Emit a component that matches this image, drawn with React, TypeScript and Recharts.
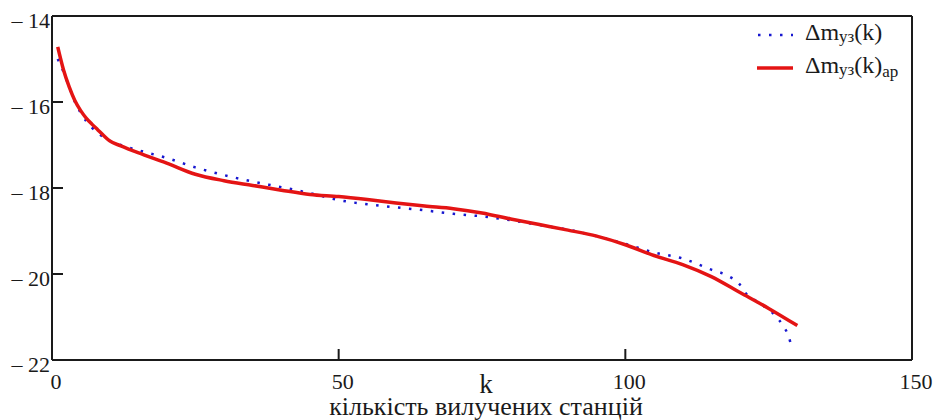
import React from 'react';
import { LineChart, Line, XAxis, YAxis, Legend } from 'recharts';

// approximated curve: k -> value
const kRed = [1, 2, 3, 4, 5, 6, 7, 8, 9, 10, 12, 15, 20, 25, 30, 35, 40, 45, 50, 55, 60, 65, 70, 75, 80, 85, 90, 95, 100, 105, 110, 115, 120, 125, 130];
const valRed = [-14.72, -15.25, -15.65, -15.97, -16.2, -16.38, -16.52, -16.65, -16.78, -16.9, -17.02, -17.18, -17.42, -17.68, -17.83, -17.94, -18.05, -18.15, -18.2, -18.27, -18.35, -18.42, -18.48, -18.58, -18.72, -18.85, -18.98, -19.12, -19.32, -19.57, -19.78, -20.06, -20.43, -20.8, -21.2];

// computed curve
const kBlue = [1, 2, 3, 4, 5, 6, 7, 8, 9, 10, 12, 15, 20, 25, 30, 35, 40, 45, 50, 55, 60, 65, 70, 75, 80, 85, 90, 95, 100, 105, 110, 115, 118, 120, 121, 122.5, 126, 127.5, 128.5, 129];
const valBlue = [-15.0, -15.3, -15.65, -16.0, -16.25, -16.45, -16.6, -16.72, -16.82, -16.9, -17.0, -17.12, -17.3, -17.52, -17.7, -17.85, -17.98, -18.12, -18.28, -18.38, -18.45, -18.52, -18.6, -18.66, -18.75, -18.86, -18.97, -19.12, -19.3, -19.5, -19.64, -19.9, -20.05, -20.25, -20.45, -20.6, -20.95, -21.2, -21.46, -21.7];

const xTicks = [0, 50, 100, 150];
const yTicks = [-22, -20, -18, -16, -14];

const redData = kRed.map((k, i) => ({ k, v: valRed[i] }));
const blueData = kBlue.map((k, i) => ({ k, v: valBlue[i] }));

const FONT = 'Liberation Serif, Tinos, Times New Roman, DejaVu Serif, serif';
const INK = '#1a1a1a';
const RED = '#e41414';
const BLUE = '#1717d0';

const BottomTick = (props: any) => {
  const { x, y, payload } = props;
  const v = payload.value;
  const inner = v !== xTicks[0] && v !== xTicks[xTicks.length - 1];
  return (
    <g>
      {inner && <line x1={x} y1={y} x2={x} y2={y - 11} stroke={INK} strokeWidth={2} />}
      <text x={x + 4} y={y + 29} textAnchor="middle" fontFamily={FONT} fontSize={22} fill={INK}>{v}</text>
    </g>
  );
};

const TopTick = (props: any) => {
  const { x, y, payload } = props;
  const v = payload.value;
  if (v === xTicks[0] || v === xTicks[xTicks.length - 1]) return <g />;
  return <line x1={x} y1={y} x2={x} y2={y + 11} stroke={INK} strokeWidth={2} />;
};

const LeftTick = (props: any) => {
  const { x, y, payload } = props;
  const v = payload.value;
  const inner = v !== yTicks[0] && v !== yTicks[yTicks.length - 1];
  return (
    <g>
      {inner && <line x1={x} y1={y} x2={x + 11} y2={y} stroke={INK} strokeWidth={2} />}
      <text x={x - 2} y={y + 12} textAnchor="end" fontFamily={FONT} fontSize={22} fill={INK}>
        {'\u2013 ' + Math.abs(v)}
      </text>
    </g>
  );
};

const RightTick = (props: any) => {
  const { x, y, payload } = props;
  const v = payload.value;
  if (v === yTicks[0] || v === yTicks[yTicks.length - 1]) return <g />;
  return <line x1={x} y1={y} x2={x - 11} y2={y} stroke={INK} strokeWidth={2} />;
};

const AxisTitle = (props: any) => {
  const { viewBox } = props;
  const cx = viewBox.x + viewBox.width / 2 + 4;
  const top = viewBox.y;
  return (
    <g fontFamily={FONT} fill={INK}>
      <text x={cx} y={top + 33} textAnchor="middle" fontSize={27} fontFamily={FONT}>k</text>
      <text x={cx} y={top + 55} textAnchor="middle" fontSize={26} fontFamily={FONT}>кількість вилучених станцій</text>
    </g>
  );
};

const LegendBox = () => (
  <svg width={170} height={72} style={{ overflow: 'visible', display: 'block' }}>
    <line x1={8} y1={20} x2={43} y2={20} stroke={BLUE} strokeWidth={2.5} strokeDasharray="2.5 8.5" />
    <text x={55} y={25} fontSize={24} fill={INK} fontFamily={FONT}>
      Δm<tspan fontSize={17} dy={2}>уз</tspan><tspan dy={-2}>(k)</tspan>
    </text>
    <line x1={7} y1={53} x2={43} y2={53} stroke={RED} strokeWidth={3.5} />
    <text x={55} y={58} fontSize={24} fill={INK} fontFamily={FONT}>
      Δm<tspan fontSize={17} dy={2}>уз</tspan><tspan dy={-2}>(k)</tspan>
      <tspan fontSize={17} dy={4}>ар</tspan>
    </text>
  </svg>
);

export default function App() {
  return (
    <div style={{ position: 'absolute', left: 0, top: 0, background: '#fff', fontFamily: FONT }}>
      <LineChart width={934} height={420} margin={{ top: 15, right: 21, bottom: 59, left: 51 }}>
        <XAxis
          xAxisId="b"
          type="number"
          dataKey="k"
          domain={[0, 150]}
          ticks={xTicks}
          interval={0}
          height={1}
          tickSize={0}
          tickMargin={0}
          tickLine={false}
          axisLine={{ stroke: INK, strokeWidth: 2 }}
          tick={<BottomTick />}
          label={<AxisTitle />}
        />
        <XAxis
          xAxisId="t"
          orientation="top"
          type="number"
          dataKey="k"
          domain={[0, 150]}
          ticks={xTicks}
          interval={0}
          height={1}
          tickSize={0}
          tickMargin={0}
          tickLine={false}
          axisLine={{ stroke: INK, strokeWidth: 2 }}
          tick={<TopTick />}
        />
        <YAxis
          yAxisId="l"
          type="number"
          domain={[-22, -14]}
          ticks={yTicks}
          interval={0}
          width={1}
          tickSize={0}
          tickMargin={0}
          tickLine={false}
          axisLine={{ stroke: INK, strokeWidth: 2 }}
          tick={<LeftTick />}
        />
        <YAxis
          yAxisId="r"
          orientation="right"
          type="number"
          domain={[-22, -14]}
          ticks={yTicks}
          interval={0}
          width={1}
          tickSize={0}
          tickMargin={0}
          tickLine={false}
          axisLine={{ stroke: INK, strokeWidth: 2 }}
          tick={<RightTick />}
        />
        <Legend
          layout="vertical"
          align="center"
          verticalAlign="middle"
          content={<LegendBox />}
          wrapperStyle={{ left: 750, top: 15, width: 170, height: 72 }}
        />
        <Line
          xAxisId="b"
          yAxisId="l"
          data={blueData}
          dataKey="v"
          type="monotone"
          stroke={BLUE}
          strokeWidth={2.5}
          strokeDasharray="2.5 8.5"
          dot={false}
          activeDot={false}
          isAnimationActive={false}
        />
        <Line
          xAxisId="b"
          yAxisId="l"
          data={redData}
          dataKey="v"
          type="monotone"
          stroke={RED}
          strokeWidth={3.5}
          dot={false}
          activeDot={false}
          isAnimationActive={false}
        />
      </LineChart>
    </div>
  );
}
